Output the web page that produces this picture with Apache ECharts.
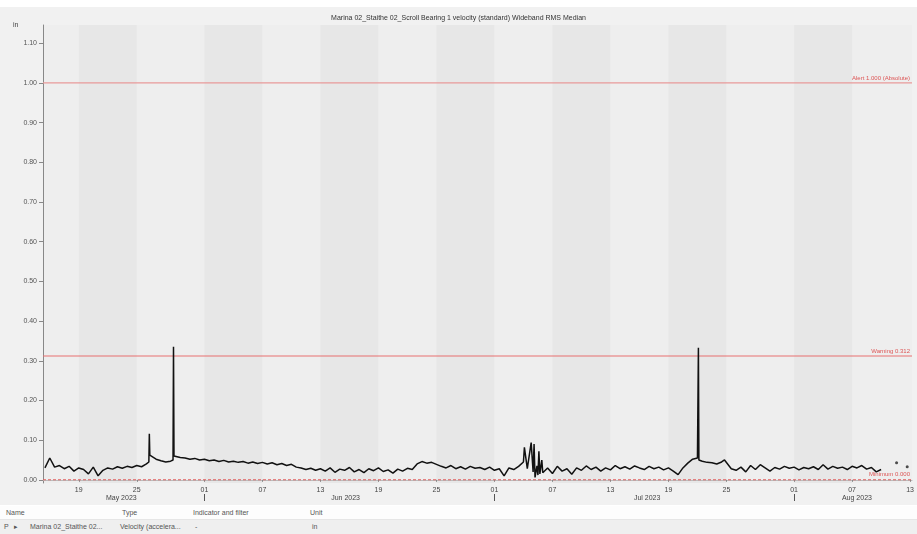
<!DOCTYPE html>
<html>
<head>
<meta charset="utf-8">
<script src="https://cdn.jsdelivr.net/npm/echarts@6/dist/echarts.min.js"></script>
<style>
  html, body { margin: 0; padding: 0; background: #fff; }
  body { width: 917px; height: 534px; overflow: hidden; position: relative;
         font-family: "Liberation Sans", "DejaVu Sans", sans-serif; }
  #chart { position: absolute; left: 0; top: 7px; width: 917px; height: 498px; }
  #table { position: absolute; left: 0; top: 506px; width: 917px; height: 28px; font-size: 7px; color: #555; }
  .row { position: relative; height: 14px; line-height: 14px; }
  .head { background: #fdfdfd; border-bottom: 1px solid #e6e6e6; height: 13px; }
  .data { background: #efefef; }
  .row span { position: absolute; white-space: nowrap; }
</style>
</head>
<body>
<div id="chart"></div>
<div id="table">
  <div class="row head">
    <span style="left:6px">Name</span>
    <span style="left:122px">Type</span>
    <span style="left:193px">Indicator and filter</span>
    <span style="left:310px">Unit</span>
  </div>
  <div class="row data">
    <span style="left:4px">P</span>
    <span style="left:14px">&#9656;</span>
    <span style="left:30px">Marina 02_Staithe 02...</span>
    <span style="left:120px">Velocity (accelera...</span>
    <span style="left:195px">-</span>
    <span style="left:312px">in</span>
  </div>
</div>
<script>
  // days counted from 1 May 2023 (1 May = 0)
  const titleText = 'Marina 02_Staithe 02_Scroll Bearing 1 velocity (standard) Wideband RMS Median';
  const startDay = 14.5;
  const stepDay = 0.5;
  const values = [
    // 14.5 - 25.0
    0.030, 0.055, 0.032, 0.036, 0.028, 0.034, 0.022, 0.030, 0.026, 0.015, 0.032,
    0.010, 0.024, 0.030, 0.027, 0.033, 0.029, 0.034, 0.031, 0.036, 0.033, 0.040,
    // 25.5 - 43.0
    0.060, 0.052, 0.048, 0.045, 0.047, 0.058, 0.056, 0.055, 0.052, 0.054, 0.050, 0.052,
    0.048, 0.050, 0.046, 0.049, 0.045, 0.047, 0.044, 0.046, 0.042, 0.045, 0.041, 0.044,
    0.040, 0.043, 0.038, 0.041, 0.036, 0.039, 0.032, 0.030, 0.026, 0.029, 0.024, 0.028,
    // 43.5 - 52.5
    0.022, 0.030, 0.019, 0.027, 0.024, 0.031, 0.020, 0.026, 0.018, 0.028,
    0.023, 0.030, 0.021, 0.025, 0.017, 0.027, 0.022, 0.029, 0.026,
    // 53.0 - 55.0
    0.040, 0.046, 0.042, 0.044, 0.039,
    // 55.5 - 63.5
    0.034, 0.030, 0.036, 0.028, 0.033, 0.027, 0.034, 0.029, 0.031,
    0.026, 0.032, 0.024, 0.028, 0.010, 0.030, 0.026, 0.034,
    // 64.0 - 66.0
    0.045, 0.030, 0.020, 0.012, 0.018,
    // 66.5 - 79.5
    0.030, 0.016, 0.034, 0.022, 0.028, 0.014, 0.030, 0.024, 0.035, 0.026, 0.032, 0.022, 0.030, 0.025,
    0.036, 0.028, 0.033, 0.027, 0.035, 0.030, 0.026, 0.034, 0.028, 0.032, 0.025, 0.030, 0.022,
    // 80.0 - 85.5
    0.013, 0.030, 0.042, 0.052, 0.055, 0.047, 0.044, 0.043, 0.040, 0.045, 0.050, 0.028,
    // 86.0 - 101.0
    0.024, 0.032, 0.020, 0.036, 0.026, 0.038, 0.030, 0.022, 0.031, 0.027, 0.034, 0.029, 0.032, 0.025, 0.031, 0.028,
    0.033, 0.026, 0.038, 0.027, 0.034, 0.029, 0.032, 0.026, 0.034, 0.030, 0.036, 0.027, 0.031, 0.020, 0.026
  ];
  const spikes = [
    [25.25, 0.045], [25.3, 0.116], [25.35, 0.062],
    [27.75, 0.050], [27.8, 0.335], [27.85, 0.060],
    [64.1, 0.082], [64.3, 0.085], [64.4, 0.028], [64.8, 0.094], [64.95, 0.098],
    [65.1, 0.090], [65.2, 0.006], [65.4, 0.035], [65.6, 0.072], [65.7, 0.015], [65.9, 0.050],
    [82.05, 0.056], [82.1, 0.333], [82.15, 0.050],
    [84.8, 0.050]
  ];
  const lonePoints = [[102.6, 0.043], [103.7, 0.033]];

  const dayTicks = [18, 24, 31, 37, 43, 49, 55, 61, 67, 73, 79, 85, 92, 98, 104];
  const dayLabels = ['19', '25', '01', '07', '13', '19', '25', '01', '07', '13', '19', '25', '01', '07', '13'];
  const monthStarts = [31, 61, 92];
  const monthMids = [22.4, 45.6, 76.8, 98.5];
  const monthLabels = ['May 2023', 'Jun 2023', 'Jul 2023', 'Aug 2023'];
  const yTicks = [0, 0.1, 0.2, 0.3, 0.4, 0.5, 0.6, 0.7, 0.8, 0.9, 1.0, 1.1];

  // threshold levels drawn as flat lines across the whole time range
  const levelValues = [1.0, 0.312, 0];
  const levelNames = ['Alert 1.000 (Absolute)', 'Warning 0.312', 'Minimum 0.000'];
  const levelColors = ['#e89a9a', '#e87070', '#e06060'];
  const levelDash = ['solid', 'solid', [3, 2]];
  const xMin = 14.3, xMax = 104.2;

  const lineData = values.map((v, i) => [startDay + i * stepDay, v])
    .concat(spikes)
    .sort((a, b) => a[0] - b[0]);

  const levelSeries = levelValues.map((lv, i) => ({
    type: 'line',
    data: [[xMin, lv], [xMax, lv]],
    silent: true,
    showSymbol: false,
    z: 2,
    lineStyle: { color: levelColors[i], width: i === 0 ? 1.3 : 1.1, type: levelDash[i] },
    itemStyle: { color: levelColors[i] },
    // markLine only carries the text; the line itself is the series above
    markLine: {
      silent: true,
      symbol: 'none',
      lineStyle: { color: 'rgba(0,0,0,0)', width: 1 },
      label: {
        show: true, formatter: levelNames[i], position: 'insideEndTop',
        fontSize: 6, color: '#d55', opacity: 1, distance: [2, 2]
      },
      data: [{ yAxis: lv }]
    }
  }));

  const chart = echarts.init(document.getElementById('chart'));
  chart.setOption({
    animation: false,
    backgroundColor: '#f1f1f1',
    textStyle: { fontFamily: 'Liberation Sans, DejaVu Sans, sans-serif' },
    title: {
      text: titleText,
      left: 'center',
      top: 3,
      textStyle: { fontSize: 7, fontWeight: 'normal', color: '#333' }
    },
    graphic: [{
      type: 'text', left: 13, top: 15,
      style: { text: 'in', fontSize: 7, fill: '#444' }
    }],
    grid: {
      left: 43, right: 0, top: 18, bottom: 22,
      show: true, backgroundColor: '#eeeeee', borderWidth: 0
    },
    xAxis: [{
      type: 'value',
      min: xMin, max: xMax,
      axisLine: { show: true, lineStyle: { color: '#bbb' } },
      axisTick: { show: true, customValues: dayTicks, length: 2, lineStyle: { color: '#888' } },
      axisLabel: {
        customValues: dayTicks, fontSize: 7, color: '#444', margin: 4,
        formatter: v => dayLabels[dayTicks.indexOf(v)]
      },
      splitLine: { show: false },
      splitArea: { show: true, areaStyle: { color: ['#e7e7e7', '#eeeeee'] } }
    }, {
      type: 'value',
      min: xMin, max: xMax,
      position: 'bottom',
      offset: 11,
      axisLine: { show: false },
      axisTick: { show: true, customValues: monthStarts, length: 7, lineStyle: { color: '#555' } },
      axisLabel: {
        customValues: monthMids, fontSize: 7, color: '#444', margin: 1,
        formatter: v => monthLabels[monthMids.indexOf(v)]
      },
      splitLine: { show: false }
    }],
    yAxis: {
      type: 'value',
      min: -0.008, max: 1.146,
      axisLine: { show: true, lineStyle: { color: '#888' } },
      axisTick: { show: true, customValues: yTicks, length: 4, lineStyle: { color: '#888' } },
      axisLabel: {
        customValues: yTicks, fontSize: 7, color: '#555', margin: 6,
        formatter: v => v.toFixed(2)
      },
      splitLine: { show: false }
    },
    series: levelSeries.concat([{
      type: 'line',
      data: lineData,
      showSymbol: false,
      itemStyle: { color: '#111' },
      lineStyle: { color: '#111', width: 1.5 },
      z: 3
    }, {
      type: 'scatter',
      data: lonePoints,
      symbolSize: 3,
      itemStyle: { color: '#222' },
      z: 3
    }])
  });
</script>
</body>
</html>
